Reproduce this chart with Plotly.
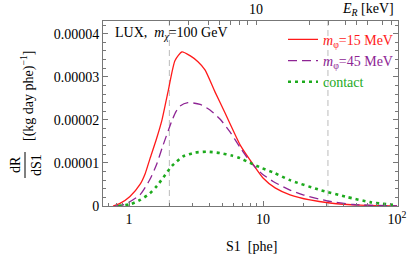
import math
import plotly.graph_objects as go

# ---- data ----
s1_red = [0.76, 0.857, 1.017, 1.208, 1.32, 1.434, 1.60, 1.763, 1.954, 2.205, 2.485, 2.851, 3.27, 3.69, 4.38, 5.21, 5.87, 6.74, 8.28, 10.0, 12.3, 15.9, 22.4, 31.6, 53.0, 100.0]
rate_red = [0.0, 0.06e-5, 0.22e-5, 0.50e-5, 0.75e-5, 1.10e-5, 1.55e-5, 2.00e-5, 2.65e-5, 3.38e-5, 3.58e-5, 3.49e-5, 3.35e-5, 3.16e-5, 2.65e-5, 2.16e-5, 1.81e-5, 1.42e-5, 1.00e-5, 0.65e-5, 0.42e-5, 0.26e-5, 0.14e-5, 0.07e-5, 0.02e-5, 0.003e-5]

s1_purple = [0.786, 0.933, 1.208, 1.434, 1.60, 1.79, 2.09, 2.24, 2.40, 2.75, 3.39, 4.02, 4.77, 5.67, 6.74, 8.0, 9.8, 11.9, 15.9, 19.9, 30.0, 47.0, 100.0]
rate_purple = [0.0, 0.04e-5, 0.26e-5, 0.62e-5, 0.95e-5, 1.40e-5, 1.98e-5, 2.19e-5, 2.32e-5, 2.40e-5, 2.36e-5, 2.23e-5, 2.02e-5, 1.72e-5, 1.36e-5, 1.03e-5, 0.75e-5, 0.57e-5, 0.37e-5, 0.26e-5, 0.12e-5, 0.035e-5, 0.005e-5]

s1_green = [0.83, 1.02, 1.21, 1.43, 1.62, 1.86, 2.09, 2.53, 3.11, 3.82, 4.77, 5.87, 6.74, 8.0, 9.8, 11.9, 15.9, 26.7, 42.1, 62.9, 96.7]
rate_green = [0.0, 0.04e-5, 0.14e-5, 0.29e-5, 0.47e-5, 0.72e-5, 0.93e-5, 1.15e-5, 1.24e-5, 1.26e-5, 1.23e-5, 1.17e-5, 1.11e-5, 1.00e-5, 0.88e-5, 0.78e-5, 0.60e-5, 0.37e-5, 0.21e-5, 0.09e-5, 0.02e-5]

series_names = ["<i>m</i><sub>φ</sub>=15 MeV", "<i>m</i><sub>φ</sub>=45 MeV", "contact"]
series_colors = ["#FF1A1A", "#8E2494", "#1DAA1D"]

x_tickvals = [1, 10, 100]
x_ticktext = ["1", "10", "10<sup>2</sup>"]
x_minor = [0.7, 0.8, 0.9, 2, 3, 4, 5, 6, 7, 8, 9, 20, 30, 40, 50, 60, 70, 80, 90]

y_tickvals = [0, 1e-5, 2e-5, 3e-5, 4e-5]
y_ticktext = ["0", "0.00001", "0.00002", "0.00003", "0.00004"]

# top axis: recoil energy ticks placed at their S1 positions
top_tick_s1 = [1.99, 2.80, 3.89, 4.77, 5.67, 6.72, 7.72, 8.88, 22.3, 30.6, 40.9, 49.6, 60.3, 77.6, 91.5]
top_label_s1 = 8.88
top_label_text = "10"

thresholds = [2.0, 30.5]

FONT = "Liberation Serif, Times New Roman, serif"
FRAME = "#777777"

fig = go.Figure()
fig.add_trace(go.Scatter(x=s1_red, y=rate_red, mode="lines", name="<span style='color:%s'>%s</span>" % (series_colors[0], series_names[0]),
                         line=dict(color=series_colors[0], width=1.3, shape="spline", smoothing=0.6)))
fig.add_trace(go.Scatter(x=s1_purple, y=rate_purple, mode="lines", name="<span style='color:%s'>%s</span>" % (series_colors[1], series_names[1]),
                         line=dict(color=series_colors[1], width=1.3, dash="9px,5px", shape="spline", smoothing=0.6)))
fig.add_trace(go.Scatter(x=s1_green, y=rate_green, mode="lines", name="<span style='color:%s'>%s</span>" % (series_colors[2], series_names[2]),
                         line=dict(color=series_colors[2], width=2.6, dash="3px,4px", shape="spline", smoothing=0.6)))
# invisible trace to carry the top axis
fig.add_trace(go.Scatter(x=[1, 10], y=[None, None], xaxis="x2", showlegend=False, hoverinfo="skip"))

for t in thresholds:
    fig.add_shape(type="line", xref="x", yref="paper", x0=t, x1=t, y0=0, y1=1,
                  line=dict(color="#BBBBBB", width=1, dash="6px,4px"), layer="below")

xr = [-0.194, 2.007]
fig.update_layout(
    width=407, height=256,
    autosize=False,
    margin=dict(l=103, r=9, t=21, b=50, pad=0, autoexpand=False),
    paper_bgcolor="white", plot_bgcolor="white",
    font=dict(family=FONT, size=14, color="black"),
    showlegend=True,
    legend=dict(x=1.0, y=0.985, xanchor="right", yanchor="top", bgcolor="rgba(0,0,0,0)",
                font=dict(size=14, family=FONT), tracegroupgap=0, itemwidth=30),
    xaxis=dict(type="log", range=xr, showgrid=False, zeroline=False, automargin=False,
               showline=True, linecolor=FRAME, linewidth=1, mirror=False,
               ticks="inside", ticklen=5, tickcolor=FRAME,
               tickmode="array", tickvals=x_tickvals, ticktext=x_ticktext,
               minor=dict(ticks="inside", ticklen=3, tickcolor=FRAME, tickmode="array", tickvals=x_minor)),
    xaxis2=dict(type="log", range=xr, overlaying="x", side="top", anchor="y", automargin=False,
                showgrid=False, zeroline=False, showline=True, linecolor=FRAME, linewidth=1,
                ticks="inside", ticklen=4, tickcolor=FRAME, showticklabels=False,
                tickmode="array", tickvals=top_tick_s1),
    yaxis=dict(range=[0, 4.295e-5], showgrid=False, zeroline=False, automargin=False,
               showline=True, linecolor=FRAME, linewidth=1, mirror="ticks",
               ticks="inside", ticklen=5, tickcolor=FRAME,
               tickmode="array", tickvals=y_tickvals, ticktext=y_ticktext,
               minor=dict(ticks="inside", ticklen=3, tickcolor=FRAME, dtick=2e-6, tick0=0)),
)

# helpers: pixel in the 407x256 picture -> paper coordinates
def px(x):
    return (x - 103) / 295.0

def py(y):
    return (206 - y) / 185.0

ann = [
    dict(x=px(113), y=py(34), xanchor="left", yanchor="middle",
         text="LUX,  <i>m</i><sub><i>χ</i></sub>=100 GeV"),
    dict(x=px(396), y=py(9), xanchor="right", yanchor="middle",
         text="<i>E</i><sub><i>R</i></sub> [keV]"),
    dict(x=math.log10(top_label_s1), xref="x", y=py(9), xanchor="center", yanchor="middle",
         text=top_label_text),
    dict(x=px(251), y=py(246), xanchor="center", yanchor="middle", text="S1  [phe]"),
    dict(x=px(27), y=py(96), xanchor="center", yanchor="middle", textangle=-90,
         text="[(kg day phe)<sup>−1</sup>]"),
    dict(x=px(15), y=py(165), xanchor="center", yanchor="middle", textangle=-90, text="dR"),
    dict(x=px(36), y=py(165), xanchor="center", yanchor="middle", textangle=-90, text="dS1"),
]
for a in ann:
    a.setdefault("xref", "paper")
    a.update(yref="paper", showarrow=False, font=dict(family=FONT, size=14, color="black"))
    fig.add_annotation(**a)

fig.add_shape(type="line", xref="paper", yref="paper", x0=px(25), x1=px(25), y0=py(152), y1=py(178),
              line=dict(color="black", width=1))

# remove the page's default 8px body margin so the figure fills the window exactly
fig.write_html("out.html", config={"displayModeBar": False},
               post_script="document.body.style.margin='0';document.body.style.overflow='hidden';")
